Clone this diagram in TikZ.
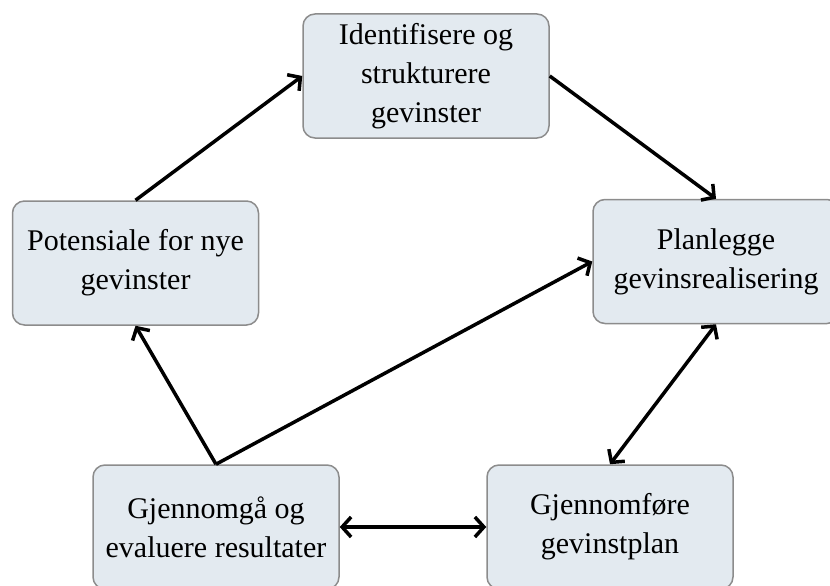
\documentclass[tikz,border=0pt]{standalone}
\usepackage{fontspec}
\setmainfont{Liberation Serif}
\usetikzlibrary{arrows.meta}
\definecolor{boxfill}{HTML}{E3EAF0}
\definecolor{boxline}{HTML}{8C8C8C}
\tikzset{
  stage/.style={draw=boxline, line width=1.5pt, fill=boxfill, rounded corners=12pt,
    minimum width=246pt, minimum height=124pt, inner sep=0pt, align=center,
    font=\fontsize{30}{39}\selectfont},
  flow/.style={line width=3.5pt, -{Straight Barb[length=9pt,width=20pt]}},
  flowboth/.style={line width=3.5pt, {Straight Barb[length=9pt,width=20pt]}-{Straight Barb[length=9pt,width=20pt]}}
}
\begin{document}
\begin{tikzpicture}[x=1pt,y=-1pt]
  \useasboundingbox (0,0) rectangle (830,586);
  \clip (0,0) rectangle (830,586);
  \node[stage] (ident) at (426,76) {Identifisere og\\strukturere\\gevinster};
  \node[stage] (pot) at (135.5,263) {Potensiale for nye\\gevinster};
  \node[stage] (plan) at (716,261.5) {Planlegge\\gevinsrealisering};
  \node[stage] (review) at (216,527) {Gjennomgå og\\evaluere resultater};
  \node[stage] (exec) at (610,527) {Gjennomføre\\gevinstplan};

  \draw[flow] (pot.north) -- (ident.west);
  \draw[flow] (ident.east) -- (plan.north);
  \draw[flow] (review.north) -- (pot.south);
  \draw[flow] (review.north) -- (plan.west);
  \draw[flowboth] (plan.south) -- (exec.north);
  \draw[flowboth] (review.east) -- (exec.west);
\end{tikzpicture}
\end{document}
